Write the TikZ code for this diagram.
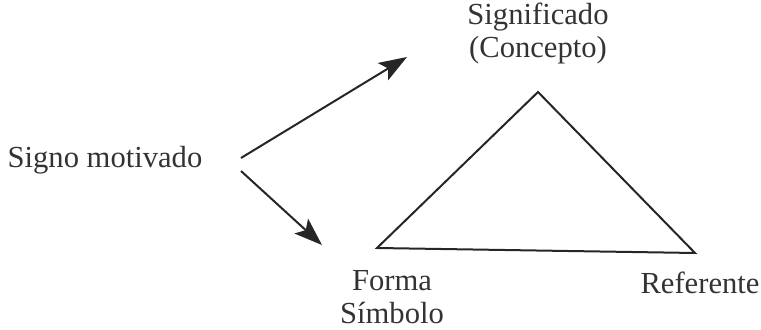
\documentclass[tikz,border=0pt]{standalone}
\usepackage{fontspec}
\setmainfont{Liberation Serif}
\usetikzlibrary{arrows.meta,positioning}

\begin{document}
\begin{tikzpicture}[
  x=0.5pt,y=-0.5pt,
  word/.style={font=\fontsize{15.3}{16.5}\selectfont,text=black!80,inner sep=0pt,align=center},
  side/.style={draw=black!85,line width=1pt},
  link/.style={side,-{Stealth[length=14pt,width=10pt,inset=3pt]}}
]
  \useasboundingbox (0,0) rectangle (761,330);

  % triangle
  \coordinate (apex) at (538,92);
  \coordinate (base1) at (377,248);
  \coordinate (base2) at (695,253);
  \draw[side,line join=miter] (apex) -- (base1) -- (base2) -- cycle;

  \node[word] (signo) at (105,160) {Signo motivado};
  \node[word] (signif) at (538,33) {Significado\\(Concepto)};
  \node[word] (forma) at (392,297) {Forma\\Símbolo};
  \node[word] (refer) at (700,283) {Referente};

  \coordinate (fork1) at (241,158);
  \coordinate (fork2) at (241,171);
  \coordinate (up) at (407,57);
  \coordinate (down) at (322,245);
  \draw[link] (fork1) -- (up);
  \draw[link] (fork2) -- (down);
\end{tikzpicture}
\end{document}
